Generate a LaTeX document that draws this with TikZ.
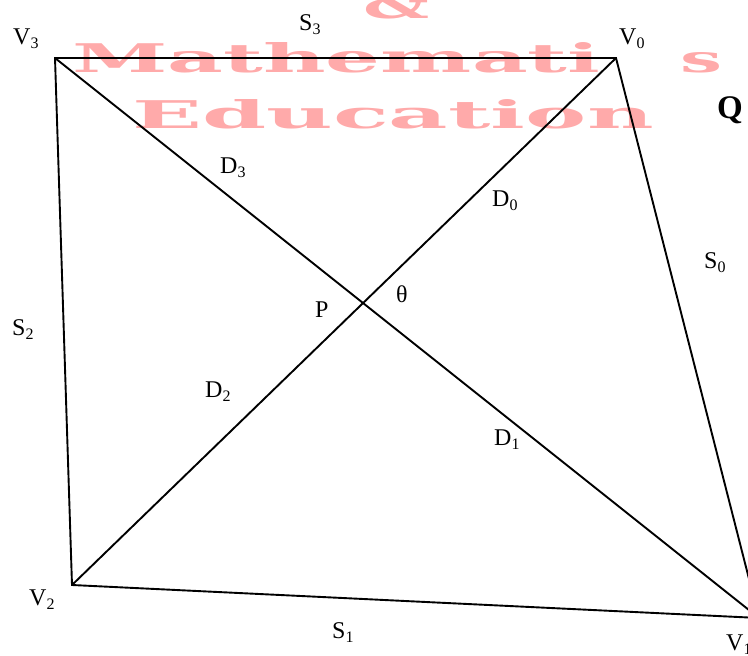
\documentclass[tikz,border=0pt]{standalone}
\usepackage{fontspec}
\setmainfont{Liberation Serif}
\newfontfamily\wmfont{DejaVu Serif}
\usepackage{graphicx}
\definecolor{wmpink}{RGB}{255,170,170}
\newcommand{\sublabel}[2]{#1\raisebox{-4pt}{\fontsize{16}{16}\selectfont #2}}

\begin{document}
\begin{tikzpicture}[
  x=1pt, y=-1pt,
  edge/.style={line width=1.9pt, line join=miter},
  lbl/.style={font=\fontsize{24}{28}\selectfont, inner sep=0pt, anchor=base west},
  wm/.style={text=wmpink, font=\wmfont\bfseries, inner sep=0pt, anchor=base west}
]
\useasboundingbox (0,0) rectangle (748,656);

% watermark
\node[wm] (amp) at (363,18) {\resizebox{66pt}{30pt}{\&}};
\node[wm] (math) at (72,72) {\resizebox{528pt}{30pt}{Mathemati}};
\node[wm] (maths) at (680,72) {\resizebox{42pt}{20pt}{s}};
\node[wm] (edu) at (132,128) {\resizebox{521pt}{29pt}{Education}};

% quadrilateral
\coordinate (v0) at (616,58);
\coordinate (v1) at (759,618);
\coordinate (v2) at (72,585);
\coordinate (v3) at (55,58);

\draw[edge] (v3) -- (v0) -- (v1) -- (v2) -- cycle;
\draw[edge] (v3) -- (v1);
\draw[edge] (v2) -- (v0);

% labels
\node[lbl] (lv3) at (13,44) {\sublabel{V}{3}};
\node[lbl] (lv0) at (619,44) {\sublabel{V}{0}};
\node[lbl] (lv1) at (726,650) {\sublabel{V}{1}};
\node[lbl] (lv2) at (29,605) {\sublabel{V}{2}};
\node[lbl] (ls3) at (299,30) {\sublabel{S}{3}};
\node[lbl] (ls0) at (704,268) {\sublabel{S}{0}};
\node[lbl] (ls1) at (332,638) {\sublabel{S}{1}};
\node[lbl] (ls2) at (12,335) {\sublabel{S}{2}};
\node[lbl] (ld3) at (220,173) {\sublabel{D}{3}};
\node[lbl] (ld0) at (492,206) {\sublabel{D}{0}};
\node[lbl] (ld2) at (205,397) {\sublabel{D}{2}};
\node[lbl] (ld1) at (494,445) {\sublabel{D}{1}};
\node[lbl] (lp) at (315,317) {P};
\node[lbl] (ltheta) at (396,302) {θ};
\node[lbl, font=\fontsize{33}{36}\selectfont\bfseries] (lq) at (717,118) {Q};
\end{tikzpicture}
\end{document}
